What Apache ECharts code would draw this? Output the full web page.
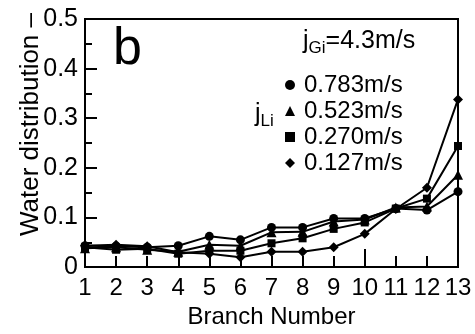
<!DOCTYPE html>
<html>
<head>
<meta charset="utf-8">
<script src="https://cdn.jsdelivr.net/npm/echarts@6/dist/echarts.min.js"></script>
<style>
  html, body { margin: 0; padding: 0; background: #fff; }
  #chart { width: 475px; height: 334px; }
</style>
</head>
<body>
<div id="chart"></div>
<script>
// Branch index along the header
const branches = [1, 2, 3, 4, 5, 6, 7, 8, 9, 10, 11, 12, 13];

// Water distribution per branch for each inlet liquid velocity (jGi = 4.3 m/s)
const seriesNames = ['0.783m/s', '0.523m/s', '0.270m/s', '0.127m/s'];
const jL0783 = [0.043, 0.042, 0.040, 0.043, 0.062, 0.055, 0.080, 0.080, 0.098, 0.098, 0.118, 0.115, 0.152];
const jL0523 = [0.038, 0.040, 0.035, 0.031, 0.045, 0.043, 0.070, 0.071, 0.092, 0.096, 0.120, 0.122, 0.186];
const jL0270 = [0.040, 0.035, 0.037, 0.027, 0.033, 0.033, 0.048, 0.058, 0.077, 0.090, 0.118, 0.138, 0.244];
const jL0127 = [0.043, 0.045, 0.042, 0.030, 0.027, 0.020, 0.031, 0.031, 0.040, 0.067, 0.117, 0.160, 0.338];
const markers = ['circle', 'triangle', 'rect', 'diamond'];

const yTicks = [0, 0.1, 0.2, 0.3, 0.4, 0.5];

const FONT = 'Liberation Sans, Arial, sans-serif';
const allValues = [jL0783, jL0523, jL0270, jL0127];

const series = allValues.map((vals, i) => ({
  name: seriesNames[i],
  type: 'line',
  xAxisIndex: 0,
  data: branches.map((b, k) => [b, vals[k]]),
  symbol: markers[i],
  symbolSize: markers[i] === 'rect' ? 8 : (markers[i] === 'circle' ? 9 : 10),
  lineStyle: { color: '#000', width: 2 },
  itemStyle: { color: '#000' },
  emphasis: { disabled: true },
  animation: false,
  z: 3
}));

const chart = echarts.init(document.getElementById('chart'), null, { renderer: 'canvas' });
chart.setOption({
  backgroundColor: '#fff',
  animation: false,
  grid: {
    left: 85, right: 17, top: 19, bottom: 66,
    show: true, borderColor: '#000', borderWidth: 2, backgroundColor: 'transparent'
  },
  title: {
    text: 'b', left: 108, top: 19,
    textStyle: { fontFamily: FONT, fontSize: 52, fontWeight: 'normal', color: '#000' }
  },
  legend: {
    orient: 'vertical', left: 280, top: 68,
    itemWidth: 10, itemHeight: 10, itemGap: 2,
    selectedMode: false,
    data: seriesNames.map((n, i) => ({ name: n, icon: markers[i] })),
    textStyle: { fontFamily: FONT, fontSize: 24, color: '#000', lineHeight: 24, padding: [0, 0, 0, 4] }
  },
  xAxis: [{
    type: 'value', min: 1, max: 13, interval: 1,
    name: 'Branch Number', nameLocation: 'middle', nameGap: 26,
    nameTextStyle: { fontFamily: FONT, fontSize: 24, color: '#000', verticalAlign: 'top' },
    axisLine: { show: true, lineStyle: { color: '#000', width: 2 } },
    axisTick: { show: true, inside: true, length: 11, lineStyle: { color: '#000', width: 2 } },
    axisLabel: {
      fontFamily: FONT, fontSize: 24, color: '#000', margin: 9,
      formatter: v => (branches.includes(v) ? String(v) : '')
    },
    splitLine: { show: false }
  }, {
    type: 'value', min: 1, max: 13, position: 'bottom',
    axisLine: { show: false },
    axisLabel: { show: false },
    axisTick: { show: true, inside: true, length: 18, customValues: [5, 10], lineStyle: { color: '#000', width: 2 } },
    splitLine: { show: false }
  }],
  yAxis: {
    type: 'value', min: 0, max: 0.5, interval: 0.1,
    axisLine: { show: true, lineStyle: { color: '#000', width: 2 } },
    axisTick: { show: true, inside: true, length: 12, lineStyle: { color: '#000', width: 2 } },
    minorTick: { show: true, splitNumber: 2, length: 7, lineStyle: { color: '#000', width: 2 } },
    axisLabel: {
      fontFamily: FONT, fontSize: 25, color: '#000', margin: 7,
      formatter: v => {
        const t = yTicks.find(y => Math.abs(y - v) < 1e-9);
        return t === 0 ? '0' : t.toFixed(1);
      }
    },
    splitLine: { show: false }
  },
  graphic: [
    {
      type: 'text', rotation: Math.PI / 2,
      style: { text: 'Water distribution –', font: '26px ' + FONT, fill: '#000' },
      x: 18, y: 236
    },
    {
      type: 'text', left: 303, top: 29,
      style: {
        text: '{j|j}{s|Gi}{j|=4.3m/s}',
        rich: {
          j: { font: '25px ' + FONT, fill: '#000' },
          s: { font: '17px ' + FONT, fill: '#000', padding: [13, 0, 0, 0] }
        }
      }
    },
    {
      type: 'text', left: 255, top: 102,
      style: {
        text: '{j|j}{s|Li}',
        rich: {
          j: { font: '25px ' + FONT, fill: '#000' },
          s: { font: '17px ' + FONT, fill: '#000', padding: [13, 0, 0, 0] }
        }
      }
    }
  ],
  series: series
});
</script>
</body>
</html>
